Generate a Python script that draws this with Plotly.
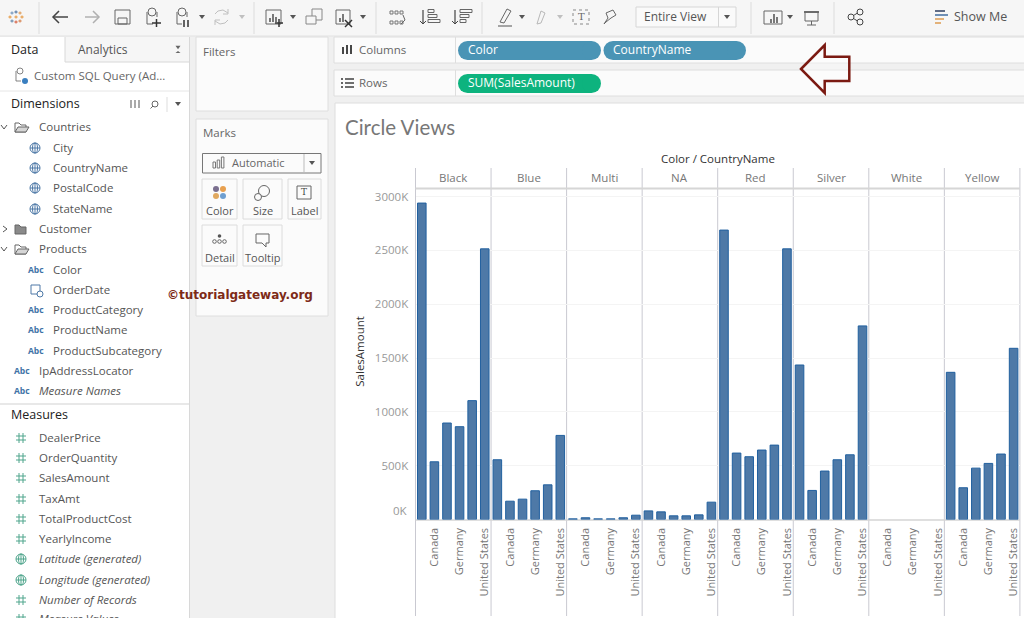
import plotly.graph_objects as go

W, H = 1024, 618
FONT = "Open Sans"

# ---------- data (SalesAmount, thousands) ----------
countries = ["Australia", "Canada", "France", "Germany", "United Kingdom", "United States"]
shown_countries = ["Canada", "Germany", "United States"]
colors_dim = ["Black", "Blue", "Multi", "NA", "Red", "Silver", "White", "Yellow"]
black = [2939, 536, 896, 862, 1104, 2514]
blue = [555, 170, 189, 267, 322, 781]
multi = [6, 16, 6, 6, 16, 40]
na = [80, 71, 34, 34, 43, 161]
red = [2688, 617, 583, 645, 691, 2514]
silver = [1435, 270, 450, 555, 601, 1798]
white = [None, None, None, None, None, None]
yellow = [1367, 295, 477, 521, 608, 1590]
series = [black, blue, multi, na, red, silver, white, yellow]
y_ticks = [500, 1000, 1500, 2000, 2500, 3000]
y_labels = ["500K", "1000K", "1500K", "2000K", "2500K", "3000K"]

dim_items = [("Countries", 39, 127, "n"), ("City", 53, 148, "n"), ("CountryName", 53, 168, "n"),
             ("PostalCode", 53, 188, "n"), ("StateName", 53, 209, "n"), ("Customer", 39, 229, "n"),
             ("Products", 39, 249, "n"), ("Color", 53, 270, "n"), ("OrderDate", 53, 290, "n"),
             ("ProductCategory", 53, 310, "n"), ("ProductName", 53, 330, "n"),
             ("ProductSubcategory", 53, 351, "n"), ("IpAddressLocator", 39, 371, "n"),
             ("Measure Names", 39, 391, "i")]
mea_items = [("DealerPrice", 438, "n"), ("OrderQuantity", 458, "n"), ("SalesAmount", 478, "n"),
             ("TaxAmt", 499, "n"), ("TotalProductCost", 519, "n"), ("YearlyIncome", 539, "n"),
             ("Latitude (generated)", 559, "i"), ("Longitude (generated)", 580, "i"),
             ("Number of Records", 600, "i"), ("Measure Values", 619, "i")]

# ---------- helpers ----------
shapes, notes = [], []
fx = lambda x: x / W
fy = lambda y: 1 - y / H


def rect(x0, y0, x1, y1, fill="rgba(0,0,0,0)", line=None, lw=1, layer="below"):
    shapes.append(dict(type="rect", xref="paper", yref="paper", x0=fx(x0), x1=fx(x1), y0=fy(y0), y1=fy(y1),
                       fillcolor=fill, line=dict(color=line or "rgba(0,0,0,0)", width=lw if line else 0), layer=layer))


def seg(x0, y0, x1, y1, color="#666", lw=1, layer="below"):
    shapes.append(dict(type="line", xref="paper", yref="paper", x0=fx(x0), x1=fx(x1), y0=fy(y0), y1=fy(y1),
                       line=dict(color=color, width=lw), layer=layer))


def circ(cx, cy, r, fill="rgba(0,0,0,0)", line=None, lw=1, layer="above"):
    shapes.append(dict(type="circle", xref="paper", yref="paper", x0=fx(cx - r), x1=fx(cx + r), y0=fy(cy - r), y1=fy(cy + r),
                       fillcolor=fill, line=dict(color=line or "rgba(0,0,0,0)", width=lw if line else 0), layer=layer))


def poly(pts, fill="rgba(0,0,0,0)", line=None, lw=1, close=True, layer="above"):
    d = "M" + " L".join(f"{fx(x):.5f},{fy(y):.5f}" for x, y in pts) + (" Z" if close else "")
    shapes.append(dict(type="path", xref="paper", yref="paper", path=d, fillcolor=fill,
                       line=dict(color=line or "rgba(0,0,0,0)", width=lw if line else 0), layer=layer))


def pill(x0, y0, x1, y1, fill):
    r = (y1 - y0) / 2
    rect(x0 + r, y0, x1 - r, y1, fill=fill)
    circ(x0 + r, (y0 + y1) / 2, r, fill=fill, layer="below")
    circ(x1 - r, (y0 + y1) / 2, r, fill=fill, layer="below")


def T(x, y, s, size=12, color="#555", anchor="left", font=FONT, italic=False, bold=False, angle=0):
    txt = f"<i>{s}</i>" if italic else s
    txt = f"<b>{txt}</b>" if bold else txt
    notes.append(dict(xref="paper", yref="paper", x=fx(x), y=fy(y - 0.8), text=txt, showarrow=False, textangle=angle,
                      xanchor=anchor, yanchor="middle", borderpad=0, borderwidth=0,
                      font=dict(family=font, size=size, color=color)))


def globe(cx, cy, c="#4e79a7"):
    circ(cx, cy, 5, line=c)
    seg(cx - 5, cy, cx + 5, cy, c, 1, "above")
    seg(cx, cy - 5, cx, cy + 5, c, 1, "above")
    shapes.append(dict(type="circle", xref="paper", yref="paper", x0=fx(cx - 2.5), x1=fx(cx + 2.5), y0=fy(cy - 5), y1=fy(cy + 5),
                       line=dict(color=c, width=1)))


def hash_icon(cx, cy, c="#4fa58c"):
    for d in (-2, 2):
        seg(cx + d, cy - 5, cx + d, cy + 5, c, 1, "above")
        seg(cx - 5, cy + d, cx + 5, cy + d, c, 1, "above")


def folder(cx, cy, opened):
    poly([(cx - 6, cy + 5), (cx - 6, cy - 4), (cx - 2, cy - 4), (cx, cy - 2), (cx + 5, cy - 2), (cx + 5, cy + 5)],
         fill="#8a8a8a" if not opened else "rgba(0,0,0,0)", line="#666")
    if opened:
        poly([(cx - 6, cy + 5), (cx - 3, cy), (cx + 8, cy), (cx + 5, cy + 5)], fill="#d5d5d5", line="#666")


def tri(cx, cy, c="#555", s=3):
    poly([(cx - s, cy - s / 1.5), (cx + s, cy - s / 1.5), (cx, cy + s / 1.5)], fill=c)


def chevron(cx, cy, down):
    pts = [(cx - 3, cy - 2), (cx, cy + 2), (cx + 3, cy - 2)] if down else [(cx - 2, cy - 3), (cx + 2, cy), (cx - 2, cy + 3)]
    poly(pts, line="#555", close=False)


# ---------- application chrome ----------
rect(0, 0, W, H, fill="#f0f0f0")
rect(0, 0, W, 36, fill="#f6f6f6")
seg(0, 36, W, 36, "#e2e2e2")
rect(0, 37, 189, H, fill="#ffffff")
seg(189.5, 37, 189.5, H, "#d8d8d8")
rect(65, 37, 189, 62, fill="#f6f6f6")
seg(65, 37, 65, 62, "#d8d8d8")
seg(65, 62, 189, 62, "#d8d8d8")
seg(0, 91, 189, 91, "#e6e6e6")
seg(0, 404, 189, 404, "#e8e8e8", 2)
rect(196, 37, 328, 111, fill="#fbfbfb", line="#dedede")
rect(196, 119, 328, 316, fill="#fbfbfb", line="#dedede")
rect(334, 37, W + 2, 63, fill="#fbfbfb", line="#dedede")
rect(334, 70, W + 2, 96, fill="#fbfbfb", line="#dedede")
seg(455.5, 37, 455.5, 63, "#dedede")
seg(455.5, 70, 455.5, 96, "#dedede")
rect(335, 103, W + 2, H + 2, fill="#ffffff", line="#dedede")

# toolbar separators
for sx in (39, 254, 376, 482, 751, 834):
    seg(sx, 2, sx, 34, "#dcdcdc")

# tableau logo
for cx, cy, c in [(16, 12, "#5b7fa8"), (10, 17, "#e8a04f"), (22, 17, "#e8a04f"), (16, 22, "#d96b4f"),
                  (12, 13, "#7a9cc0"), (20, 13, "#e0a060"), (12, 21, "#6f8fb0"), (20, 21, "#d98a5a"), (16, 17, "#e8a04f")]:
    seg(cx - 1.6, cy, cx + 1.6, cy, c, 1.2, "above")
    seg(cx, cy - 1.6, cx, cy + 1.6, c, 1.2, "above")

# back / forward
poly([(53, 17), (68, 17)], line="#444", lw=1.5, close=False)
poly([(59, 11), (53, 17), (59, 23)], line="#444", lw=1.5, close=False)
poly([(85, 17), (99, 17)], line="#b0b0b0", lw=1.5, close=False)
poly([(93, 11), (99, 17), (93, 23)], line="#b0b0b0", lw=1.5, close=False)
# save
rect(115, 10, 130, 24, line="#666", layer="above")
rect(118, 18, 127, 24, line="#666", layer="above")
# data sources
circ(152, 12, 4, line="#666")
poly([(147, 12), (147, 24), (153, 24)], line="#666", close=False)
poly([(157, 12), (157, 17)], line="#666", close=False)
seg(152, 23, 161, 23, "#333", 1.5, "above")
seg(156.5, 19, 156.5, 27, "#333", 1.5, "above")
circ(182, 12, 4, line="#666")
poly([(177, 12), (177, 24), (182, 24)], line="#666", close=False)
poly([(187, 12), (187, 17)], line="#666", close=False)
seg(184, 20, 184, 27, "#333", 1.5, "above")
seg(188, 20, 188, 27, "#333", 1.5, "above")
tri(202, 17)
# refresh (two arcs with heads)
poly([(215, 14), (218, 11), (223, 10), (228, 13)], line="#c0c0c0", close=False)
poly([(228, 20), (225, 23), (220, 24), (215, 21)], line="#c0c0c0", close=False)
poly([(228, 9), (228, 14), (223, 14)], line="#c0c0c0", close=False)
poly([(215, 25), (215, 20), (220, 20)], line="#c0c0c0", close=False)
tri(242, 17, "#c0c0c0")
# new worksheet / duplicate / clear
rect(266, 10, 281, 24, line="#666", layer="above")
for i, h in enumerate((4, 8, 5)):
    seg(270 + i * 3, 22, 270 + i * 3, 22 - h, "#444", 1.4, "above")
seg(275, 23, 283, 23, "#333", 1.5, "above")
seg(279, 19, 279, 27, "#333", 1.5, "above")
tri(293, 17)
rect(312, 9, 322, 20, line="#888", layer="above")
rect(306, 16, 316, 24, fill="#f6f6f6", line="#888", layer="above")
rect(336, 10, 350, 24, line="#666", layer="above")
for i, h in enumerate((4, 8)):
    seg(340 + i * 3, 22, 340 + i * 3, 22 - h, "#444", 1.4, "above")
seg(345, 20, 352, 27, "#333", 1.5, "above")
seg(352, 20, 345, 27, "#333", 1.5, "above")
tri(363, 17)
# swap / sort
for i in range(3):
    rect(390 + i * 5, 11, 393 + i * 5, 14, line="#777", layer="above")
    rect(390 + i * 5, 21, 393 + i * 5, 24, line="#777", layer="above")
poly([(403, 15), (405, 20), (401, 24)], line="#666", close=False)
for ax, bars in [(423, ((6, 6), (6, 9), (6, 12))), (455, ((6, 12), (6, 9), (6, 6)))]:
    seg(ax, 10, ax, 24, "#444", 1.2, "above")
    poly([(ax - 3, 21), (ax, 24), (ax + 3, 21)], line="#444", close=False)
    for (b0, bl), by in zip(bars, (11, 16, 21)):
        rect(ax + b0 - 1, by - 1.5, ax + b0 - 1 + bl, by + 1.5, line="#666", layer="above")
# highlight / clip / text / pin
poly([(500, 22), (507, 9), (511, 11), (504, 23)], line="#666")
seg(498, 26, 512, 26, "#888", 1.5, "above")
tri(522, 17)
poly([(537, 24), (541, 11), (545, 13), (541, 23)], line="#b8b8b8")
tri(560, 17, "#c0c0c0")
rect(573, 10, 589, 24, line="#888", lw=1, layer="above")
shapes[-1]["line"]["dash"] = "dot"
T(581, 17.5, "T", 10, "#666", "center", "DejaVu Serif")
poly([(604, 24), (608, 18), (606, 13), (613, 10), (616, 15), (611, 18), (606, 22)], line="#666")
# entire view
rect(636, 7, 736, 27, fill="#fafafa", line="#d6d6d6")
seg(718.5, 7, 718.5, 27, "#d6d6d6")
T(644, 17, "Entire View", 12, "#555")
tri(727, 17)
# show cards / presentation / share
rect(764, 11, 782, 24, line="#666", layer="above")
for i, h in enumerate((4, 9, 6)):
    seg(771 + i * 3, 23, 771 + i * 3, 23 - h, "#444", 1.4, "above")
tri(790, 17)
seg(804, 12, 819, 12, "#444", 1.5, "above")
rect(805, 12, 818, 21, line="#666", layer="above")
seg(811.5, 21, 811.5, 25, "#666", 1, "above")
seg(807, 25, 816, 25, "#666", 1, "above")
circ(851, 17, 3, line="#444")
circ(860, 12, 3, line="#444")
circ(860, 22, 3, line="#444")
seg(853.5, 15.5, 857.5, 13, "#444", 1, "above")
seg(853.5, 18.5, 857.5, 21, "#444", 1, "above")
rect(935, 10, 945, 12, fill="#5f6b85")
rect(935, 14, 948, 16, fill="#6f8fb5")
rect(935, 18, 944, 20, fill="#e3b27a")
rect(935, 22, 941, 24, fill="#e3b27a")
T(954, 17, "Show Me", 12.5, "#555")

# data pane
T(11, 50, "Data", 12.5, "#222")
T(78, 50, "Analytics", 12, "#555")
tri(178, 47.5, "#666", 2.5)
poly([(175.5, 53), (180.5, 53), (178, 51)], fill="#666")
circ(20, 71, 3, line="#666", lw=0.8)
poly([(16, 71), (16, 81), (21, 81)], line="#666", lw=0.8, close=False)
circ(25, 81, 3, fill="#3a7fc0")
T(34, 76, "Custom SQL Query (Ad...", 11.5, "#666")
T(11, 104, "Dimensions", 12.5, "#222")
for i in range(3):
    seg(131 + i * 4, 100, 131 + i * 4, 108, "#aaa", 2, "above")
circ(155, 104, 3, line="#666")
seg(153, 106, 150.5, 108.5, "#666", 1, "above")
seg(167, 97, 167, 112, "#ddd")
tri(178, 104)
T(11, 415, "Measures", 12.5, "#222")
chevron(4, 127, True)
folder(21, 127, True)
chevron(5, 229, False)
folder(21, 229, False)
chevron(4, 249, True)
folder(21, 249, True)

for name, x, y, st in dim_items:
    T(x, y, name, 11.5, "#555", italic=st == "i")
    if name in ("City", "CountryName", "PostalCode", "StateName"):
        globe(35, y)
    elif name == "OrderDate":
        rect(31, y - 5, 40, y + 4, line="#4e79a7", layer="above")
        circ(40, y + 4, 3, fill="#fff", line="#4e79a7")
    elif name not in ("Countries", "Customer", "Products"):
        T(x - 25, y + 0.5, "Abc", 8.5, "#3f73a6", bold=True)
for name, y, st in mea_items:
    T(39, y, name, 11.5, "#555", italic=st == "i")
    if name.startswith(("Latitude", "Longitude")):
        globe(21, y, "#4fa58c")
    else:
        hash_icon(21, y)

# filters / marks cards
T(203, 52, "Filters", 11.5, "#666")
T(203, 133, "Marks", 11.5, "#666")
rect(202.5, 153.5, 321, 173, fill="#fbfbfb", line="#777")
seg(304, 154, 304, 173, "#bbb")
for i, h in enumerate((6, 8, 11)):
    rect(213 + i * 4.2, 168 - h, 215.5 + i * 4.2, 168, line="#777", layer="above")
T(232, 163, "Automatic", 11, "#666")
tri(312, 163)
for x0, x1, y0, y1, lab in [(202, 237, 179, 219, "Color"), (243, 282, 179, 219, "Size"), (288, 321, 179, 219, "Label"),
                            (202, 237, 225, 266, "Detail"), (243, 282, 225, 266, "Tooltip")]:
    rect(x0, y0, x1, y1, fill="#fbfbfb", line="#dcdcdc")
    T((x0 + x1) / 2, y1 - 8, lab, 11, "#555", "center")
for cx, cy, c in [(216, 189, "#7a6f8f"), (223, 189, "#e8a04f"), (216, 196, "#e0a860"), (223, 196, "#6f9fd0")]:
    circ(cx, cy, 3, fill=c)
circ(264, 191, 5.5, line="#666")
circ(258, 197, 3.5, fill="#fbfbfb", line="#666")
rect(297, 186, 311, 199, line="#666", layer="above")
T(304, 193, "T", 9, "#444", "center", "DejaVu Serif")
circ(219.5, 236, 1.8, fill="#555")
for dx in (-5, 0, 5):
    circ(219.5 + dx, 241.5, 1.8, line="#666")
poly([(256, 234), (269, 234), (269, 243), (266, 243), (266, 247), (262, 243), (256, 243)], line="#666")

# shelves
for i, h in enumerate((7, 9, 9)):
    seg(343 + i * 4, 54, 343 + i * 4, 54 - h, "#333", 1.8, "above")
T(359, 50, "Columns", 11.5, "#666")
for i in range(3):
    seg(345, 79 + i * 4, 354, 79 + i * 4, "#333", 1.4, "above")
    seg(341, 79 + i * 4, 343, 79 + i * 4, "#333", 1.4, "above")
T(359, 83, "Rows", 11.5, "#666")
pill(458, 41, 601, 60, "#4a94b5")
pill(603.5, 41, 746, 60, "#4a94b5")
pill(458, 74, 601, 93, "#0db37e")
T(468, 50.5, "Color", 12, "#ffffff")
T(613, 50.5, "CountryName", 12, "#ffffff")
T(468, 83.5, "SUM(SalesAmount)", 12, "#ffffff")

# arrow callout
poly([(801, 69), (824.7, 45), (824.7, 56.7), (849.3, 56.7), (849.3, 81), (824.7, 81), (824.7, 93)],
     fill="rgba(255,255,255,0.35)", line="#7b1a12", lw=2.5)

# view title and watermark
T(345, 128, "Circle Views", 20.5, "#777777", font="Lato")
T(167, 296, "©tutorialgateway.org", 12, "#7d2a17", font="DejaVu Sans", bold=True)

# ---------- chart ----------
panel_w = 75.55
left = 415.5
zero_px, top_px, px_3000 = 519.5, 189, 196.5
y_max = (zero_px - top_px) / (zero_px - px_3000) * 3000

fig = go.Figure()
layout = dict(
    width=W, height=H, margin=dict(l=0, r=0, t=0, b=0), paper_bgcolor="#ffffff", plot_bgcolor="rgba(0,0,0,0)",
    showlegend=False, bargap=0.32, font=dict(family=FONT),
    yaxis=dict(domain=[fy(zero_px), fy(top_px)], range=[0, y_max], tickvals=y_ticks, ticktext=y_labels,
               ticks="outside", ticklen=4, tickcolor="rgba(0,0,0,0)", tickfont=dict(size=11.5, color="#999"),
               showgrid=True, gridcolor="#f4f4f4", gridwidth=1, zeroline=False, showline=False, anchor="x"),
)
for i, (name, vals) in enumerate(zip(colors_dim, series)):
    key = "" if i == 0 else str(i + 1)
    fig.add_trace(go.Bar(x=countries, y=vals, name=name, xaxis=f"x{key}", yaxis="y",
                         marker=dict(color="#4e79a7", line=dict(color="#21609f", width=1))))
    x0 = left + i * panel_w
    layout[f"xaxis{key}"] = dict(domain=[fx(x0), fx(x0 + panel_w)], anchor="y", type="category",
                                 categoryorder="array", categoryarray=countries, range=[-0.5, 5.5],
                                 tickmode="array", tickvals=shown_countries, ticktext=shown_countries,
                                 tickangle=-90, ticks="outside", ticklen=3, tickcolor="rgba(0,0,0,0)",
                                 tickfont=dict(size=11, color="#777"), showgrid=False, zeroline=False, showline=False)
    T(x0 + panel_w / 2, 178.5, name, 11.5, "#777", "center")
for i in range(9):
    x = left + i * panel_w
    seg(x, 168, x, 616, "#c9c9d1", 1)
seg(left, 188.5, left + 8 * panel_w, 188.5, "#d6d6d6", 2)
seg(left, zero_px + 0.5, left + 8 * panel_w, zero_px + 0.5, "#d4d4d4", 1.5)
T(408, 511.5, "0K", 11.5, "#999", "right")
T(717.5, 159.5, "Color / CountryName", 11.5, "#333", "center")
T(359.5, 352, "SalesAmount", 11.5, "#333", "center", angle=-90)

layout["shapes"] = shapes
layout["annotations"] = notes
fig.update_layout(**layout)
fig.write_html("out.html", config=dict(displayModeBar=False),
               post_script="document.body.style.margin='0';document.documentElement.style.overflow='hidden';")
